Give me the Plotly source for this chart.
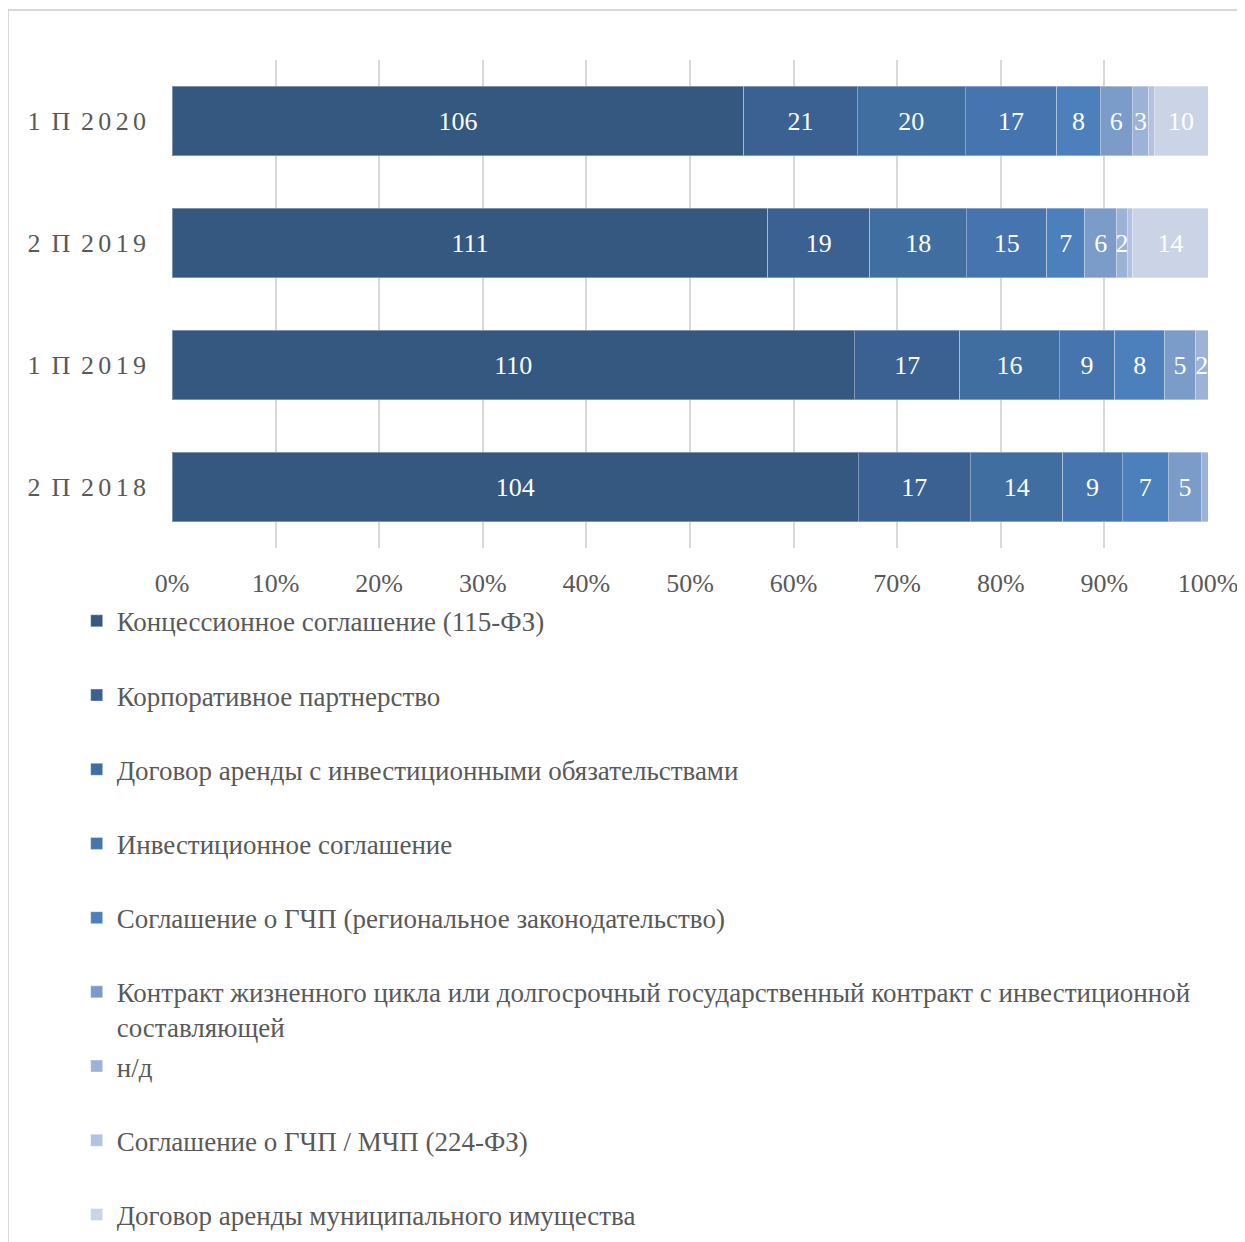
import plotly.graph_objects as go

periods = ["1 П 2020", "2 П 2019", "1 П 2019", "2 П 2018"]
series_names = [
    "Концессионное соглашение (115-ФЗ)",
    "Корпоративное партнерство",
    "Договор аренды с инвестиционными обязательствами",
    "Инвестиционное соглашение",
    "Соглашение о ГЧП (региональное законодательство)",
    "Контракт жизненного цикла или долгосрочный государственный контракт с инвестиционной<br>составляющей",
    "н/д",
    "Соглашение о ГЧП / МЧП (224-ФЗ)",
    "Договор аренды муниципального имущества",
]
concession = [106, 111, 110, 104]
corporate = [21, 19, 17, 17]
lease_invest = [20, 18, 16, 14]
invest_agreement = [17, 15, 9, 9]
ppp_regional = [8, 7, 8, 7]
lifecycle = [6, 6, 5, 5]
no_data = [3, 2, 2, 1]
ppp_224 = [1, 1, 0, 0]
municipal_lease = [10, 14, 0, 0]
series_values = [concession, corporate, lease_invest, invest_agreement,
                 ppp_regional, lifecycle, no_data, ppp_224, municipal_lease]
colors = ["#34587f", "#3a6192", "#416ea1", "#4574ae", "#4c80bc",
          "#7b9bc8", "#9db2d7", "#b2c2e0", "#cad4e6"]
x_ticks = list(range(0, 101, 10))


def spaced(label):
    out = label[0]
    for prev, ch in zip(label, label[1:]):
        sep = "\u200a" if (prev == " " or ch == " ") else "\u2006"
        out += sep + ch
    return out


FONT = "Liberation Serif, Times New Roman, serif"
FS = 26
LFS = 27

fig = go.Figure()
for i, (name, vals, col) in enumerate(zip(series_names, series_values, colors)):
    legend_name = name if "<br>" in name else name + "<br>\u00a0"
    fig.add_trace(go.Bar(
        y=periods, x=vals, orientation="h", name=legend_name,
        legendgroup="g%d" % i,
        marker=dict(color=col, line=dict(color="rgba(255,255,255,0.35)", width=1)),
        text=[str(v) if v >= 2 else "" for v in vals],
        textposition="inside", insidetextanchor="middle", textangle=0,
        constraintext="none",
        textfont=dict(family=FONT, size=FS, color="white"),
        hoverinfo="skip",
    ))

fig.update_layout(
    width=1245, height=1242,
    barmode="stack", barnorm="percent", bargap=0.434,
    paper_bgcolor="white", plot_bgcolor="white",
    margin=dict(l=164, r=45, t=52, b=702, autoexpand=False),
    font=dict(family=FONT, size=FS, color="#595959"),
    showlegend=True,
    legend=dict(orientation="v", x=-0.092, xanchor="left", y=-0.100, yanchor="top",
                traceorder="grouped", tracegroupgap=1, valign="top",
                maxheight=1000,
                font=dict(family=FONT, size=LFS, color="#595959"),
                bgcolor="rgba(0,0,0,0)"),
    xaxis=dict(range=[0, 100], tickvals=x_ticks,
               ticktext=["%d%%" % t for t in x_ticks],
               showgrid=True, gridcolor="#d9d9d9", gridwidth=2,
               zeroline=False, showline=False, ticks="",
               ticklabelstandoff=17,
               tickfont=dict(family=FONT, size=FS, color="#595959")),
    yaxis=dict(categoryorder="array", categoryarray=periods[::-1],
               tickvals=periods, ticktext=[spaced(p) for p in periods],
               showgrid=False, zeroline=False, showline=False, ticks="",
               ticklabelstandoff=25,
               tickfont=dict(family=FONT, size=FS, color="#595959")),
    shapes=[dict(type="rect", xref="paper", yref="paper",
                 x0=(8 - 172) / 1036, x1=(1260 - 172) / 1036,
                 y0=(548 - 1260) / 488, y1=(548 - 10) / 488,
                 line=dict(color="#d9d9d9", width=2), fillcolor="rgba(0,0,0,0)",
                 layer="below")],
)

fig.write_html("out.html")
